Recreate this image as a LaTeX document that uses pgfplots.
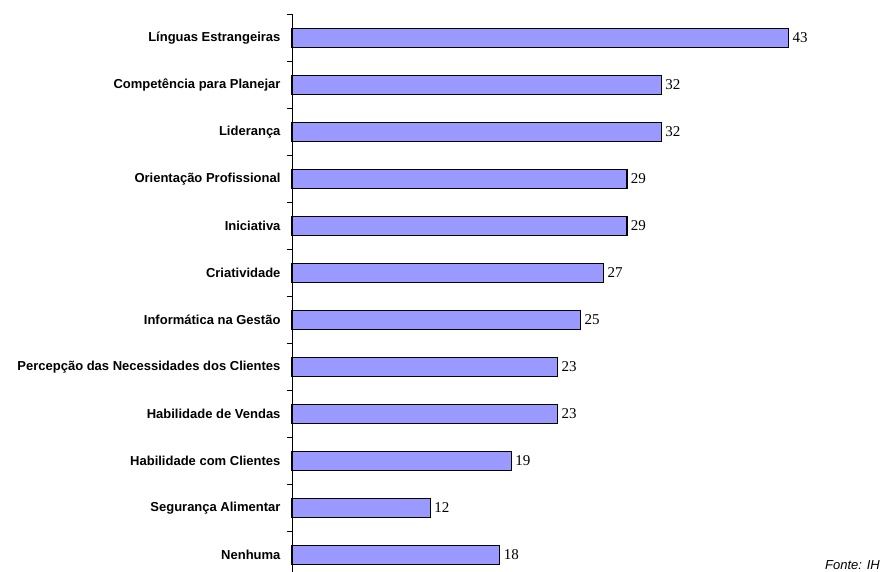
\documentclass[border=0pt]{standalone}
\usepackage{pgfplots}
\pgfplotsset{compat=1.18}
\usepackage{fontspec}
\setmainfont{Liberation Serif}
\setsansfont{Liberation Sans}
\definecolor{barfill}{RGB}{153,153,255}

\begin{document}
\begin{tikzpicture}[x=1pt,y=1pt]
\begin{axis}[
    name=ax, anchor=south west,
    scale only axis, width=577.5pt, height=564pt,
    xbar, bar width=0.404,
    xmin=0, xmax=50, ymin=0.5, ymax=12.5,
    axis x line=none, axis y line=left,
    y axis line style={-, draw=black, line width=0.7pt},
    ytick={1,...,12},
    yticklabels={Nenhuma, Segurança Alimentar, Habilidade com Clientes, Habilidade de Vendas,
        Percepção das Necessidades dos Clientes, Informática na Gestão, Criatividade, Iniciativa,
        Orientação Profissional, Liderança, Competência para Planejar, Línguas Estrangeiras},
    minor ytick={0.5,1.5,...,12.5},
    ytick align=outside, major tick length=0pt, minor tick length=5pt,
    minor tick style={draw=black, line width=0.7pt},
    yticklabel style={font=\sffamily\bfseries\fontsize{13}{15}\selectfont, xshift=-8pt},
    /pgf/number format/assume math mode=true,
    nodes near coords,
    every node near coord/.append style={font=\fontsize{15}{17}\selectfont, anchor=west},
    clip=false,
]
\addplot[fill=barfill, draw=black, line width=1.1pt] coordinates {
    (18,1) (12,2) (19,3) (23,4) (23,5) (25,6) (27,7) (29,8) (29,9) (32,10) (32,11) (43,12)
};
\end{axis}
\path (ax.south west) ++(-292,6.5) coordinate (bl);
\pgfresetboundingbox
\useasboundingbox (bl) rectangle ++(883,572);
\node[anchor=base east, inner sep=0pt, font=\sffamily\itshape\fontsize{13}{15}\selectfont] at ([shift={(880,2)}]bl) {Fonte: IH};
\end{tikzpicture}
\end{document}
